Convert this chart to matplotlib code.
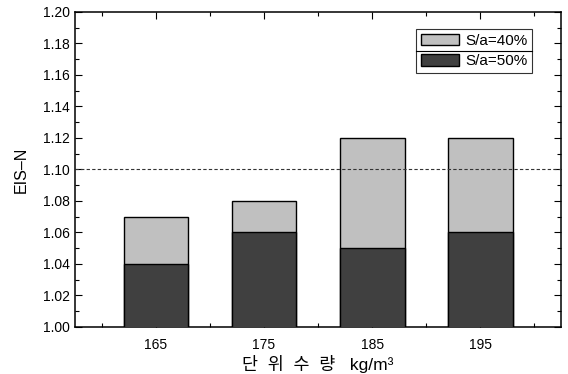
import numpy as np
import matplotlib.pyplot as plt
from matplotlib.ticker import MultipleLocator

# data
water = [165, 175, 185, 195]
sa40 = [1.07, 1.08, 1.12, 1.12]
sa50 = [1.04, 1.06, 1.05, 1.06]
ref_line = 1.10

plt.rcParams['font.family'] = ['Liberation Sans', 'Noto Sans CJK KR', 'DejaVu Sans']

fig = plt.figure(figsize=(5.68, 3.74), dpi=100)
ax = fig.add_axes([0.132, 0.126, 0.856, 0.842])

ax.bar(water, sa40, width=6, color='#c0c0c0', edgecolor='black', linewidth=1.0, label='S/a=40%', zorder=2)
ax.bar(water, sa50, width=6, color='#404040', edgecolor='black', linewidth=1.0, label='S/a=50%', zorder=3)
ax.axhline(ref_line, color='#333333', linewidth=0.8, dashes=(3, 2), zorder=4)

ax.set_xlim(157.5, 202.5)
ax.set_ylim(1.00, 1.20)
ax.set_xticks(water)
ax.xaxis.set_minor_locator(MultipleLocator(5))
ax.yaxis.set_major_locator(MultipleLocator(0.02))
ax.yaxis.set_minor_locator(MultipleLocator(0.01))
ax.yaxis.set_major_formatter(plt.FormatStrFormatter('%.2f'))

ax.tick_params(which='both', direction='in', top=True, right=True, width=0.8)
ax.tick_params(which='major', length=5)
ax.tick_params(which='minor', length=3)
ax.tick_params(axis='y', labelsize=10)
ax.tick_params(axis='x', labelsize=10, pad=8)
for s in ax.spines.values():
    s.set_linewidth(1.1)

ax.set_ylabel('EIS–N', fontsize=11.5, labelpad=10)
ax.set_xlabel('단  위  수  량   kg/m³', fontsize=12.5, labelpad=2)

leg = ax.legend(loc='upper right', bbox_to_anchor=(0.940, 0.946), borderaxespad=0,
                fontsize=11, frameon=True, fancybox=False, edgecolor='black',
                handlelength=2.5, handleheight=0.8, labelspacing=0.4,
                borderpad=0.3, handletextpad=0.4)
leg.get_frame().set_linewidth(0.8)

# separator line between legend rows
fig.canvas.draw()
bb = leg.get_window_extent().transformed(ax.transAxes.inverted())
ymid = (bb.y0 + bb.y1) / 2
ax.plot([bb.x0, bb.x1], [ymid, ymid], color='black', linewidth=0.8,
        transform=ax.transAxes, clip_on=False, zorder=10)

fig.savefig('out.png', dpi=100)
